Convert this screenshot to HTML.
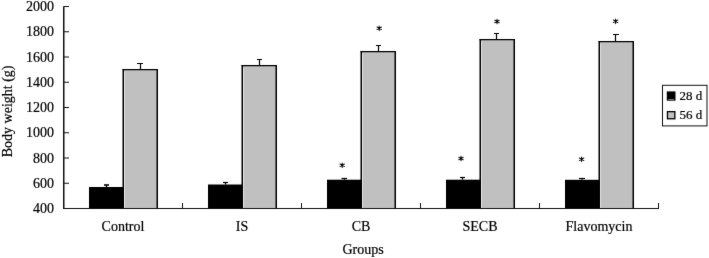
<!DOCTYPE html><html><head><meta charset="utf-8"><style>html,body{margin:0;padding:0;background:#fff;}svg{display:block;}text{font-family:"Liberation Serif",serif;fill:#000;stroke:#000;stroke-width:0.2px;}</style></head><body>
<svg width="709" height="258" viewBox="0 0 709 258"><defs><filter id="b" color-interpolation-filters="sRGB" x="-1%" y="-1%" width="102%" height="102%"><feConvolveMatrix order="3" kernelMatrix="0.01 0.05 0.01 0.05 0.76 0.05 0.01 0.05 0.01" preserveAlpha="false" edgeMode="duplicate"/></filter></defs><g filter="url(#b)"><rect width="709" height="258" fill="#fff"/>
<rect x="89.00" y="187.00" width="34.00" height="21.50" fill="#000"/>
<rect x="123.25" y="69.75" width="34.00" height="138.75" fill="#c0c0c0"/>
<path d="M123.25 208.5V69.00M157.25 208.5V69.00" fill="none" stroke="#000" stroke-width="1.5"/>
<path d="M122.50 69.60H158.00" fill="none" stroke="#000" stroke-width="1.2"/>
<path d="M106.50 187.00V185.00" stroke="#000" stroke-width="1.2" fill="none"/><path d="M104.00 185.00H109.00" stroke="#000" stroke-width="1.6" fill="none"/>
<path d="M124.50 71.50V208" stroke="#e6e6e6" stroke-width="1" fill="none"/>
<path d="M140.50 69.50V63.50M137.00 63.50H143.00" stroke="#000" stroke-width="1.2" fill="none"/>
<text x="123.00" y="230.7" font-size="14" text-anchor="middle">Control</text>
<rect x="208.00" y="184.50" width="34.00" height="24.00" fill="#000"/>
<rect x="242.25" y="65.75" width="34.00" height="142.75" fill="#c0c0c0"/>
<path d="M242.25 208.5V65.00M276.25 208.5V65.00" fill="none" stroke="#000" stroke-width="1.5"/>
<path d="M241.50 65.60H277.00" fill="none" stroke="#000" stroke-width="1.2"/>
<path d="M225.50 184.50V182.50" stroke="#000" stroke-width="1.2" fill="none"/><path d="M223.00 182.50H228.00" stroke="#000" stroke-width="1.2" fill="none"/>
<path d="M243.50 67.50V208" stroke="#e6e6e6" stroke-width="1" fill="none"/>
<path d="M259.50 65.50V59.50M257.00 59.50H262.00" stroke="#000" stroke-width="1.2" fill="none"/>
<text x="242.00" y="230.7" font-size="14" text-anchor="middle">IS</text>
<rect x="327.00" y="179.70" width="34.00" height="28.80" fill="#000"/>
<rect x="361.25" y="51.75" width="34.00" height="156.75" fill="#c0c0c0"/>
<path d="M361.25 208.5V51.00M395.25 208.5V51.00" fill="none" stroke="#000" stroke-width="1.5"/>
<path d="M360.50 51.60H396.00" fill="none" stroke="#000" stroke-width="1.2"/>
<path d="M344.50 179.70V178.50" stroke="#000" stroke-width="1.2" fill="none"/><path d="M341.50 178.50H347.00" stroke="#000" stroke-width="1.2" fill="none"/>
<path d="M362.50 53.50V208" stroke="#e6e6e6" stroke-width="1" fill="none"/>
<path d="M378.50 51.50V45.50M376.00 45.50H381.00" stroke="#000" stroke-width="1.2" fill="none"/>
<text x="361.00" y="230.7" font-size="14" text-anchor="middle">CB</text>
<rect x="446.00" y="179.70" width="34.00" height="28.80" fill="#000"/>
<rect x="480.25" y="39.75" width="34.00" height="168.75" fill="#c0c0c0"/>
<path d="M480.25 208.5V39.00M514.25 208.5V39.00" fill="none" stroke="#000" stroke-width="1.5"/>
<path d="M479.50 39.60H515.00" fill="none" stroke="#000" stroke-width="1.2"/>
<path d="M462.50 179.70V177.50" stroke="#000" stroke-width="1.2" fill="none"/><path d="M460.00 177.50H465.00" stroke="#000" stroke-width="1.2" fill="none"/>
<path d="M481.50 41.50V208" stroke="#e6e6e6" stroke-width="1" fill="none"/>
<path d="M496.50 39.50V33.50M494.00 33.50H499.00" stroke="#000" stroke-width="1.2" fill="none"/>
<text x="480.00" y="230.7" font-size="14" text-anchor="middle">SECB</text>
<rect x="565.00" y="179.80" width="34.00" height="28.70" fill="#000"/>
<rect x="599.25" y="41.75" width="34.00" height="166.75" fill="#c0c0c0"/>
<path d="M599.25 208.5V41.00M633.25 208.5V41.00" fill="none" stroke="#000" stroke-width="1.5"/>
<path d="M598.50 41.60H634.00" fill="none" stroke="#000" stroke-width="1.2"/>
<path d="M582.00 179.80V178.50" stroke="#000" stroke-width="1.2" fill="none"/><path d="M579.00 178.50H585.00" stroke="#000" stroke-width="1.2" fill="none"/>
<path d="M600.50 43.50V208" stroke="#e6e6e6" stroke-width="1" fill="none"/>
<path d="M615.50 41.50V34.50M613.00 34.50H619.00" stroke="#000" stroke-width="1.2" fill="none"/>
<text x="599.00" y="230.7" font-size="14" text-anchor="middle">Flavomycin</text>
<path d="M342.20 162.90V167.50M340.00 163.95L344.40 166.45M340.00 166.45L344.40 163.95" stroke="#111" stroke-width="1.05" stroke-linecap="round" fill="none"/><circle cx="342.20" cy="165.20" r="1.1"/>
<path d="M379.20 26.00V30.60M377.00 27.05L381.40 29.55M377.00 29.55L381.40 27.05" stroke="#111" stroke-width="1.05" stroke-linecap="round" fill="none"/><circle cx="379.20" cy="28.30" r="1.1"/>
<path d="M461.00 156.20V160.80M458.80 157.25L463.20 159.75M458.80 159.75L463.20 157.25" stroke="#111" stroke-width="1.05" stroke-linecap="round" fill="none"/><circle cx="461.00" cy="158.50" r="1.1"/>
<path d="M497.00 19.20V23.80M494.80 20.25L499.20 22.75M494.80 22.75L499.20 20.25" stroke="#111" stroke-width="1.05" stroke-linecap="round" fill="none"/><circle cx="497.00" cy="21.50" r="1.1"/>
<path d="M581.60 157.00V161.60M579.40 158.05L583.80 160.55M579.40 160.55L583.80 158.05" stroke="#111" stroke-width="1.05" stroke-linecap="round" fill="none"/><circle cx="581.60" cy="159.30" r="1.1"/>
<path d="M615.60 19.00V23.60M613.40 20.05L617.80 22.55M613.40 22.55L617.80 20.05" stroke="#111" stroke-width="1.05" stroke-linecap="round" fill="none"/><circle cx="615.60" cy="21.30" r="1.1"/>
<path d="M63.75 6.5V208.5" stroke="#111" stroke-width="1.5" fill="none"/>
<path d="M63 208.5H659" stroke="#111" stroke-width="1.2" fill="none"/>
<path d="M63.5 208.50H69" stroke="#111" stroke-width="1"/>
<text x="54" y="213.10" font-size="14" text-anchor="end">400</text>
<path d="M63.5 183.25H69" stroke="#111" stroke-width="1"/>
<text x="54" y="187.85" font-size="14" text-anchor="end">600</text>
<path d="M63.5 158.00H69" stroke="#111" stroke-width="1"/>
<text x="54" y="162.60" font-size="14" text-anchor="end">800</text>
<path d="M63.5 132.75H69" stroke="#111" stroke-width="1"/>
<text x="54" y="137.35" font-size="14" text-anchor="end">1000</text>
<path d="M63.5 107.50H69" stroke="#111" stroke-width="1"/>
<text x="54" y="112.10" font-size="14" text-anchor="end">1200</text>
<path d="M63.5 82.25H69" stroke="#111" stroke-width="1"/>
<text x="54" y="86.85" font-size="14" text-anchor="end">1400</text>
<path d="M63.5 57.00H69" stroke="#111" stroke-width="1"/>
<text x="54" y="61.60" font-size="14" text-anchor="end">1600</text>
<path d="M63.5 31.75H69" stroke="#111" stroke-width="1"/>
<text x="54" y="36.35" font-size="14" text-anchor="end">1800</text>
<path d="M63.5 6.50H69" stroke="#111" stroke-width="1"/>
<text x="54" y="11.10" font-size="14" text-anchor="end">2000</text>
<path d="M182.50 208.5V203" stroke="#111" stroke-width="1"/>
<path d="M301.50 208.5V203" stroke="#111" stroke-width="1"/>
<path d="M420.50 208.5V203" stroke="#111" stroke-width="1"/>
<path d="M539.50 208.5V203" stroke="#111" stroke-width="1"/>
<path d="M658.50 208.5V203" stroke="#111" stroke-width="1"/>
<text x="363" y="254" font-size="14" text-anchor="middle">Groups</text>
<text transform="translate(11.8,111.4) rotate(-90)" font-size="14" text-anchor="middle">Body weight (g)</text>
<rect x="662.5" y="85.3" width="44.5" height="40.6" fill="#fff" stroke="#111" stroke-width="1"/>
<rect x="667.45" y="92.05" width="7.4" height="8" fill="#000" stroke="#000" stroke-width="1.3"/><path d="M668.3 99.6H674" stroke="#999" stroke-width="0.9"/>
<rect x="667.45" y="111.65" width="7.4" height="7.1" fill="#c0c0c0" stroke="#000" stroke-width="1.3"/>
<text x="679.5" y="99.7" font-size="13">28 d</text>
<text x="679.5" y="118.6" font-size="13">56 d</text>
</g></svg></body></html>
